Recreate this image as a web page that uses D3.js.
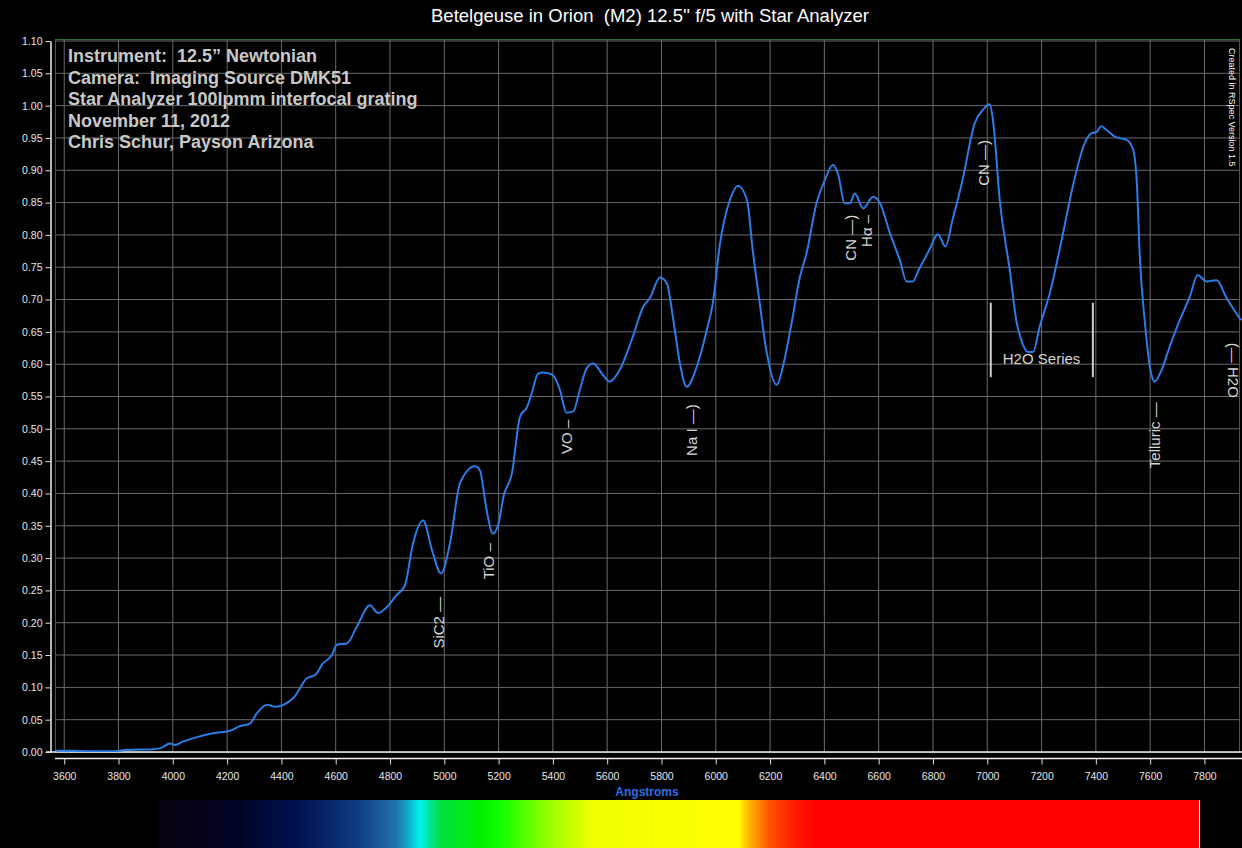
<!DOCTYPE html>
<html>
<head>
    <title>Betelgeuse spectrum</title>
    <script src="https://cdn.jsdelivr.net/npm/d3@7"></script>
    <style>
    body{margin:0;background:#000;}
    svg{display:block;font-family:Arial,"Liberation Sans",sans-serif;}
    </style>
</head>
<body>
<script type="text/javascript">

// spectrum (Angstroms / relative intensity)
const wavelengths = [3570,3620,3695,3770,3825,3880,3915,3955,3990,4008,
    4037,4089,4148,4211,4247,4284,4310,4347,4376,4443,
    4494,4524,4553,4586,4604,4641,4678,4726,4756,4788,
    4825,4855,4885,4922,4955,4988,5021,5058,5113,5131,
    5156,5179,5200,5218,5249,5279,5305,5322,5345,5364,
    5400,5426,5450,5475,5499,5525,5548,5585,5609,5646,
    5690,5733,5757,5794,5820,5842,5868,5893,5930,5967,
    5989,6015,6052,6082,6115,6136,6162,6186,6225,6247,
    6279,6310,6334,6371,6402,6431,6450,6475,6494,6512,
    6543,6580,6605,6642,6678,6703,6725,6750,6787,6818,
    6846,6872,6909,6954,6983,7009,7021,7046,7083,7109,
    7120,7150,7169,7193,7230,7274,7315,7359,7383,7402,
    7420,7440,7470,7495,7514,7538,7551,7562,7581,7599,
    7617,7642,7672,7709,7746,7775,7808,7845,7882,7935];
const intensity = [0.002,0.002,0.001,0.001,0.003,0.004,0.004,0.006,0.013,0.011,
    0.016,0.023,0.029,0.033,0.040,0.044,0.060,0.073,0.070,0.083,
    0.114,0.119,0.137,0.150,0.166,0.168,0.194,0.227,0.215,0.224,
    0.243,0.258,0.323,0.358,0.312,0.276,0.323,0.416,0.442,0.436,
    0.374,0.338,0.354,0.395,0.431,0.519,0.534,0.555,0.585,0.587,
    0.583,0.560,0.525,0.527,0.560,0.594,0.601,0.583,0.573,0.591,
    0.637,0.689,0.702,0.734,0.725,0.673,0.601,0.565,0.596,0.653,
    0.694,0.785,0.854,0.876,0.854,0.777,0.694,0.622,0.568,0.596,
    0.663,0.735,0.771,0.849,0.885,0.908,0.895,0.849,0.849,0.864,
    0.841,0.859,0.849,0.802,0.761,0.728,0.728,0.748,0.777,0.801,
    0.782,0.823,0.885,0.973,0.993,1.002,0.978,0.854,0.745,0.663,
    0.645,0.619,0.619,0.658,0.709,0.792,0.875,0.942,0.957,0.959,
    0.968,0.962,0.952,0.949,0.947,0.931,0.880,0.766,0.663,0.596,
    0.573,0.591,0.627,0.668,0.704,0.738,0.728,0.730,0.702,0.668];

const xTickValues = [3600,3800,4000,4200,4400,4600,4800,5000,5200,5400,5600,5800,6000,6200,6400,6600,6800,7000,7200,7400,7600,7800];
const yTickValues = [0,0.05,0.10,0.15,0.20,0.25,0.30,0.35,0.40,0.45,0.50,0.55,0.60,0.65,0.70,0.75,0.80,0.85,0.90,0.95,1.00,1.05,1.10];

// line identifications
const annoText = ["SiC2 \u2014","TiO \u2013","VO \u2013","Na I \u2014)","CN \u2014)","H\u03b1 \u2013","CN \u2014)","Telluric \u2014","(\u2014 H2O"];
const annoWave = [4979,5161,5449,5909,6498,6554,6985,7617,7906];
const annoValue = [0.240,0.323,0.514,0.538,0.831,0.831,0.947,0.541,0.633];

const h2oBand = [7013,7389];
const h2oRange = [0.58,0.695];

const infoLines = ["Instrument:  12.5\u201d Newtonian","Camera:  Imaging Source DMK51","Star Analyzer 100lpmm interfocal grating","November 11, 2012","Chris Schur, Payson Arizona"];

// colour strip below the axis
const stripOffsets = [0,0.084,0.133,0.19,0.228,0.243,0.251,0.259,0.271,0.309,0.329,0.379,0.418,0.557,0.569,0.588,0.617,0.636,1];
const stripColours = ["#08000c","#00052a","#001050","#103a80","#2070a8","#10b8d0","#00f0f0","#00e8b0","#00e040","#00f000","#10ff00","#a0ff00","#f0ff00","#ffff00","#ffb000","#ff5000","#ff1000","#ff0000","#ff0000"];

const W = 1242, H = 848;
const plotL = 55, plotR = 1240, plotT = 39, plotB = 752;

const svg = d3.select("body").append("svg")
    .attr("width",W)
    .attr("height",H)
    .style("background","#000");

const x = d3.scaleLinear().domain([3566,7931]).range([plotL,plotR]);
const y = d3.scaleLinear().domain([0,1.1]).range([plotB,41]);

//grid
const grid = svg.append("g");
grid.selectAll(".vg").data(xTickValues).enter().append("line")
    .attr("x1",d=>x(d)).attr("x2",d=>x(d))
    .attr("y1",plotT).attr("y2",plotB)
    .attr("stroke","#6a6a6a").attr("stroke-width",1);
grid.selectAll(".hg").data(yTickValues.slice(1)).enter().append("line")
    .attr("x1",plotL).attr("x2",plotR)
    .attr("y1",d=>y(d)).attr("y2",d=>y(d))
    .attr("stroke","#6a6a6a").attr("stroke-width",1);
svg.append("rect")
    .attr("x",plotL+0.5).attr("y",plotT+0.5)
    .attr("width",plotR-plotL-1).attr("height",plotB-plotT)
    .attr("fill","none").attr("stroke","#2f6b2f");
svg.append("line")
    .attr("x1",46).attr("x2",W)
    .attr("y1",y(0)).attr("y2",y(0))
    .attr("stroke","#f0f0f0").attr("stroke-width",1.5);

//axes
const yAxis = d3.axisLeft(y)
    .tickValues(yTickValues)
    .tickFormat(d3.format(".2f"))
    .tickSize(5)
    .tickSizeOuter(0);
const yG = svg.append("g")
    .attr("transform","translate(50.5,0)")
    .call(yAxis);

const xAxis = d3.axisBottom(x)
    .tickValues(xTickValues)
    .tickFormat(d3.format("d"))
    .tickSize(6)
    .tickSizeOuter(0);
const xG = svg.append("g")
    .attr("transform","translate(0,758.5)")
    .call(xAxis);
xG.select(".domain").attr("d","M"+plotL+",0H"+W);

[xG,yG].forEach(function(g){
    g.select(".domain").attr("stroke","#f0f0f0").attr("stroke-width",1.5);
    g.selectAll(".tick line").attr("stroke","#e0e0e0");
    g.selectAll(".tick text")
        .attr("fill","#e6e6e6")
        .style("font-size","10.5px")
        .style("font-family","Arial, 'Liberation Sans', sans-serif");
});
xG.selectAll(".tick text").attr("dy","1.2em");

svg.append("text")
    .attr("x",647).attr("y",796)
    .attr("text-anchor","middle")
    .attr("fill","#2a6fe0")
    .style("font-size","12px")
    .style("font-weight","bold")
    .text("Angstroms");

//spectrum line
const data = wavelengths.map((d,i)=>({wl:d,v:intensity[i]}));
svg.append("clipPath").attr("id","plotclip")
    .append("rect").attr("x",plotL).attr("y",plotT).attr("width",plotR-plotL+2).attr("height",plotB-plotT);
const line = d3.line()
    .x(d=>x(d.wl))
    .y(d=>y(d.v))
    .curve(d3.curveMonotoneX);
svg.append("path")
    .datum(data)
    .attr("clip-path","url(#plotclip)")
    .attr("d",line)
    .attr("fill","none")
    .attr("stroke","#2b7de6")
    .attr("stroke-width",2);

//annotations
const anno = svg.append("g").attr("class","annotations-holder");
annoText.forEach(function(t,i){
    const flip = t.charAt(0)==="(";
    anno.append("text")
        .attr("transform","translate("+x(annoWave[i])+","+y(annoValue[i])+") rotate("+(flip?90:-90)+")")
        .attr("text-anchor",flip?"start":"end")
        .attr("dominant-baseline","central")
        .attr("fill","#d6d6d6")
        .style("font-size","15px")
        .text(t);
});

anno.selectAll(".h2o").data(h2oBand).enter().append("line")
    .attr("x1",d=>x(d)).attr("x2",d=>x(d))
    .attr("y1",y(h2oRange[1])).attr("y2",y(h2oRange[0]))
    .attr("stroke","#cfcfcf").attr("stroke-width",2);
anno.append("text")
    .attr("x",x(h2oBand[0])+12)
    .attr("y",y(0.6))
    .attr("fill","#d6d6d6")
    .style("font-size","15px")
    .text("H2O Series");

//header texts
svg.append("text")
    .attr("x",650).attr("y",22)
    .attr("text-anchor","middle")
    .attr("fill","#ffffff")
    .style("font-size","18.5px")
    .style("white-space","pre")
    .text("Betelgeuse in Orion  (M2) 12.5'' f/5 with Star Analyzer");

svg.append("g").selectAll("text").data(infoLines).enter().append("text")
    .attr("x",68)
    .attr("y",(d,i)=>62+i*21.5)
    .attr("fill","#c8c8c8")
    .style("font-size","18px")
    .style("font-weight","bold")
    .style("white-space","pre")
    .text(d=>d);

svg.append("text")
    .attr("transform","translate(1229,48) rotate(90)")
    .attr("fill","#ffffff")
    .style("font-size","9px")
    .text("Created in RSpec Version 1.5");

//colour strip
const grad = svg.append("defs").append("linearGradient")
    .attr("id","strip")
    .attr("x1","0%").attr("x2","100%");
grad.selectAll("stop").data(stripOffsets).enter().append("stop")
    .attr("offset",d=>d)
    .attr("stop-color",(d,i)=>stripColours[i]);
svg.append("rect")
    .attr("x",158).attr("y",800)
    .attr("width",1041).attr("height",48)
    .attr("fill","url(#strip)");
svg.append("line")
    .attr("x1",1199.5).attr("x2",1199.5)
    .attr("y1",800).attr("y2",848)
    .attr("stroke","#ffffff");

</script>
</body>
</html>
